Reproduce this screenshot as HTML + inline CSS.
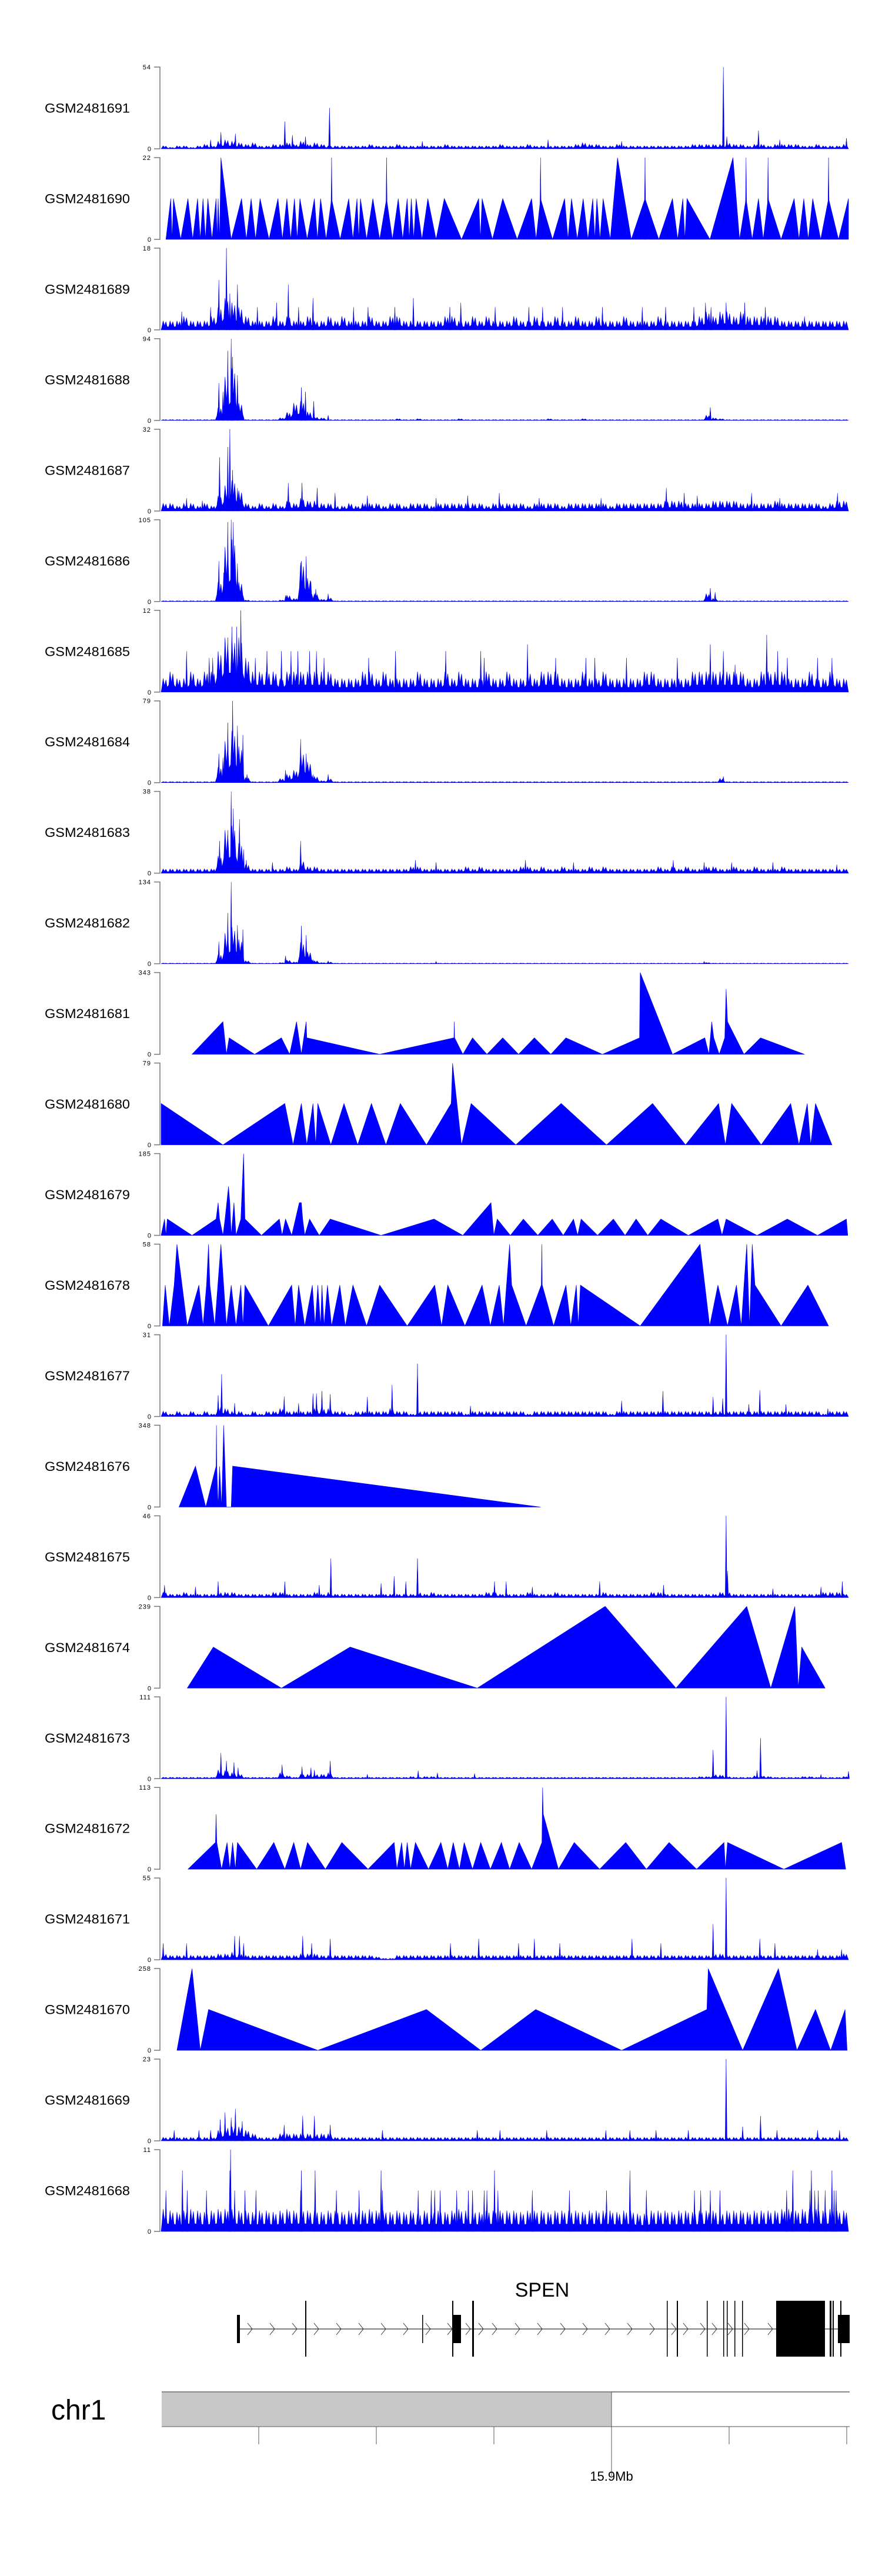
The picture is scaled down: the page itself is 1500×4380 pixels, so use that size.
<!DOCTYPE html>
<html><head><meta charset="utf-8"><style>
html,body{margin:0;padding:0;background:#fff;}
svg{display:block;font-family:"Liberation Sans",sans-serif;}
</style></head><body>
<svg id="chart" width="1500" height="4380" viewBox="0 0 1500 4380" xmlns="http://www.w3.org/2000/svg">
<g id="tracks"></g>
<g id="gene">
  <text x="922" y="3905" font-size="34" text-anchor="middle" fill="#000">SPEN</text>
</g>
<g id="ideo">
  <text x="87" y="4114" font-size="48" fill="#000">chr1</text>
  <rect x="275" y="4067" width="765" height="59" fill="#c8c8c8"/>
  <line x1="275" y1="4067" x2="1445" y2="4067" stroke="#888" stroke-width="2"/>
  <line x1="275" y1="4126" x2="1445" y2="4126" stroke="#888" stroke-width="1.5"/>
  <line x1="1040" y1="4067" x2="1040" y2="4210" stroke="#555" stroke-width="1"/>
  <text x="1040" y="4218" font-size="22" text-anchor="middle" fill="#000">15.9Mb</text>
</g>
</svg>
<script>
const NS="http://www.w3.org/2000/svg";
const trackNames=["GSM2481691","GSM2481690","GSM2481689","GSM2481688","GSM2481687","GSM2481686","GSM2481685","GSM2481684","GSM2481683","GSM2481682","GSM2481681","GSM2481680","GSM2481679","GSM2481678","GSM2481677","GSM2481676","GSM2481675","GSM2481674","GSM2481673","GSM2481672","GSM2481671","GSM2481670","GSM2481669","GSM2481668"];
const trackMax=[54,22,18,94,32,105,12,79,38,134,343,79,185,58,31,348,46,239,111,113,55,258,23,11];

const t01Bins=[2,1,2,2,1,2,3,2,5,6,5,4,3,4,2,2,3,3,4,3,5,3,4,3,2,2,2,2,2,2,3,2,2,2,3,2,2,2,2,2,2,3,2,2,2,2,2,2,2,3,2,2,2,3,2,2,2,2,2,2,3,4,3,3,2,2,3,2,2,2,2,2,2,2,2,2,2,3,3,3,3,3,4,3,3,2,3,3,2,3,3,3,3,2,2,3,2,2,2,3];
const t01Spikes=[[87,11],[72,6],[108,10],[180,18],[191,9],[210,8],[245,27],[380,5],[563,6],[670,5],[818,54],[823,8],[869,12],[900,6],[997,7]];
const t02PeakPos=[14,18,39,53,61,68,80,83,87,117,131,144,170,183,194,202,223,232,248,273,285,290,308,328,345,358,364,371,388,412,462,467,497,539,552,587,597,614,628,634,643,664,704,744,759,765,832,851,869,883,921,935,948,971,1000];
const t02PeakVal=[11,11,11,11,11,11,11,11,22,11,11,11,11,11,11,11,11,11,11,11,11,11,11,11,11,11,11,11,11,11,11,11,11,11,11,11,11,11,11,11,11,22,11,11,11,11,22,11,11,11,11,11,11,11,11];
const t02Spikes=[[248,22],[328,22],[552,22],[704,22],[851,22],[883,22],[971,22]];
const t03Bins=[2,2,2,3,2,2,2,3,5,7,6,5,3,2,2,2,3,2,3,2,2,3,2,2,3,2,3,2,2,2,3,2,2,3,3,2,2,2,2,2,2,3,3,2,2,3,2,3,2,2,2,3,2,2,3,2,2,3,2,2,3,2,2,3,2,2,2,3,2,2,2,2,3,2,2,2,2,2,3,4,3,4,4,3,4,3,3,3,3,3,2,2,2,2,2,2,2,2,2,2];
const t03Spikes=[[30,4],[72,5],[84,11],[95,18],[100,8],[111,10],[140,5],[168,6],[185,10],[200,5],[221,7],[280,5],[301,5],[340,5],[367,7],[420,5],[436,6],[486,5],[535,5],[555,5],[584,5],[642,5],[700,5],[734,5],[775,5],[792,6],[800,5],[822,6],[849,6],[879,5],[936,3]];
const t04Bins=[1,1,1,1,1,1,1,1,15,50,60,20,1,1,1,1,1,3,9,20,22,10,4,3,1,1,1,1,1,1,1,1,1,1,2,1,1,2,1,1,1,1,1,2,1,1,1,1,1,1,1,1,1,1,1,1,2,1,1,1,1,2,1,1,1,1,1,1,1,1,1,1,1,1,1,1,1,1,1,6,3,2,1,1,1,1,1,1,1,1,1,1,1,1,1,1,1,1,1,1];
const t04Spikes=[[84,43],[90,33],[97,80],[102,94],[104,73],[111,52],[184,9],[204,38],[210,33],[222,22],[243,6],[799,15]];
const t05Bins=[3,3,2,3,3,2,3,2,6,10,12,8,3,2,3,2,3,2,4,3,5,4,4,3,3,2,2,3,2,3,3,3,2,3,3,2,3,3,3,2,3,3,3,3,3,3,3,2,3,3,3,3,3,2,3,3,3,3,2,3,3,3,3,3,3,2,3,3,3,3,3,3,3,4,4,4,3,3,3,3,4,4,4,4,3,3,3,3,3,4,3,3,3,3,3,3,2,3,4,4];
const t05Spikes=[[85,21],[97,25],[100,32],[104,16],[111,9],[185,11],[205,11],[227,9],[253,7],[37,5],[60,4],[446,6],[492,7],[735,9],[761,7],[780,6],[859,7],[984,7],[300,6],[400,5],[550,5],[640,5],[900,5]];
const t06Bins=[1,1,1,1,1,1,1,1,25,70,80,25,2,1,1,1,1,2,8,4,50,30,10,3,5,1,1,1,1,1,1,1,1,1,1,1,1,1,1,1,1,1,1,1,1,1,1,1,1,1,1,1,1,1,1,1,1,1,1,1,1,1,1,1,1,1,1,1,1,1,1,1,1,1,1,1,1,1,1,10,4,1,1,1,1,1,1,1,1,1,1,1,1,1,1,1,1,1,1,1];
const t06Spikes=[[84,52],[91,37],[97,102],[102,105],[105,102],[111,49],[181,8],[204,52],[211,58],[218,26],[225,16],[243,10],[799,17],[806,12]];
const t07Bins=[2,3,2,2,3,2,3,3,6,8,8,8,5,3,3,3,3,2,3,3,3,3,3,3,3,2,2,2,2,3,3,2,3,2,2,2,2,3,2,2,2,3,2,3,2,2,2,3,2,2,3,2,2,3,2,3,3,3,2,2,2,3,2,2,3,2,2,2,2,2,3,3,2,2,2,2,2,3,3,3,3,3,3,3,3,2,2,3,3,3,3,2,2,2,3,2,2,3,2,2];
const t07Spikes=[[37,6],[70,5],[75,5],[116,12],[103,9.6],[110,9.6],[97,8],[137,5],[154,6],[175,6],[189,6],[199,6],[216,6],[226,6],[237,5],[302,5],[341,6],[414,6],[465,6],[470,5],[533,7],[574,5],[618,5],[631,5],[677,5],[751,5],[799,7],[818,6],[835,4],[881,8.4],[897,6],[911,5],[955,5],[976,5]];
const t08Bins=[1,1,1,1,1,1,1,1,15,40,50,35,5,1,1,1,1,4,8,12,30,20,6,2,4,1,1,1,1,1,1,1,1,1,1,1,1,1,1,1,1,1,1,1,1,1,1,1,1,1,1,1,1,1,1,1,1,1,1,1,1,1,1,1,1,1,1,1,1,1,1,1,1,1,1,1,1,1,1,1,1,4,1,1,1,1,1,1,1,1,1,1,1,1,1,1,1,1,1,1];
const t08Spikes=[[84,28],[90,24],[97,58],[104,79],[111,55],[119,46],[125,8],[181,12],[203,42],[211,28],[221,8],[243,8],[818,6]];
const t09Bins=[2,2,2,2,2,2,2,2,8,20,22,14,4,2,2,2,2,2,3,2,6,3,3,2,2,2,2,2,2,2,2,2,2,2,2,2,3,3,2,2,2,2,2,2,3,2,3,2,2,2,2,2,3,3,2,3,2,2,3,2,2,2,3,2,3,2,2,2,2,2,2,2,3,2,3,2,3,2,2,3,3,2,2,3,2,2,3,2,2,2,3,2,2,2,2,2,2,2,2,2];
const t09Spikes=[[85,15],[97,20],[102,38],[105,30],[114,25],[120,11],[124,6],[203,15],[162,5],[370,6],[400,5],[530,6],[600,5],[745,6],[790,5],[830,5],[890,5],[983,4]];
const t10Bins=[1,1,1,1,1,1,1,1,15,50,60,40,5,1,1,1,1,2,6,3,35,20,5,2,3,1,1,1,1,1,1,1,1,1,1,1,1,1,1,1,1,1,1,1,1,1,1,1,1,1,1,1,1,1,1,1,1,1,1,1,1,1,1,1,1,1,1,1,1,1,1,1,1,1,1,1,1,1,1,2,1,1,1,1,1,1,1,1,1,1,1,1,1,1,1,1,1,1,1,1];
const t10Spikes=[[84,36],[97,83],[102,134],[111,63],[119,56],[181,13],[204,62],[211,47],[221,7],[243,5],[400,4],[790,4]];
const t11Verts=[[45,0],[90,137],[95,0],[99,69],[136,0],[175,69],[187,0],[197,137],[204,0],[211,137],[212,69],[318,0],[426,69],[426.5,137],[427,69],[439,0],[453,69],[474,0],[497,69],[520,0],[543,69],[567,0],[589,69],[642,0],[696,69],[697,343],[744,0],[791,69],[797,0],[801,137],[804,69],[812,0],[820,69],[822,274],[824,137],[848,0],[872,69],[936,0]];
const t12Verts=[[0,40],[90,0],[180,40],[192,0],[204,40],[212,0],[221,40],[225,0],[228,40],[247,0],[266,40],[286,0],[306,40],[327,0],[348,40],[386,0],[422,40],[424,79],[437,0],[451,40],[516,0],[582,40],[648,0],[715,40],[763,0],[811,40],[821,0],[830,40],[873,0],[916,40],[928,0],[940,40],[945,0],[952,40],[976,0]];
const t13Verts=[[0,0],[5,37],[7,0],[9,37],[45,0],[80,37],[83,74],[85,37],[90,0],[93,37],[98,111],[100,74],[102,0],[106,74],[109,0],[116,37],[120,185],[122,37],[146,0],[172,37],[176,0],[181,37],[190,0],[201,74],[204,74],[206,37],[209,0],[216,37],[230,0],[246,37],[320,0],[397,37],[439,0],[480,74],[484,0],[489,37],[508,0],[527,37],[548,0],[569,37],[585,0],[600,37],[606,0],[611,37],[635,0],[658,37],[675,0],[691,37],[708,0],[727,37],[767,0],[810,37],[816,0],[822,37],[867,0],[911,37],[955,0],[997,37],[999,0]];
const t14Verts=[[2,0],[6,29],[12,0],[19,29],[23,58],[38,0],[55,29],[61,0],[66,29],[69,58],[71,29],[78,0],[87,58],[95,0],[102,29],[109,0],[116,29],[119,0],[122,29],[156,0],[190,29],[195,0],[200,29],[209,0],[220,29],[224,0],[228,29],[232,0],[234,29],[237,0],[242,29],[248,0],[260,29],[268,0],[279,29],[299,0],[318,29],[358,0],[398,29],[408,0],[417,29],[442,0],[467,29],[479,0],[492,29],[498,0],[507,58],[510,29],[531,0],[553,29],[554,58],[554.5,29],[571,0],[589,29],[596,0],[604,29],[607,0],[610,29],[697,0],[784,58],[798,0],[810,29],[824,0],[837,29],[844,0],[852,58],[856,0],[860,58],[864,29],[902,0],[941,29],[971,0]];
const t15Bins=[2,1,2,1,2,1,2,1,4,3,2,2,1,2,1,2,2,3,2,2,2,2,3,3,3,2,2,1,2,2,2,2,2,3,2,2,1,2,2,2,2,2,2,2,1,2,2,2,2,2,2,2,2,1,2,2,2,2,2,2,2,2,2,2,2,1,2,2,2,2,2,2,2,2,2,2,2,2,2,2,2,2,2,2,2,2,2,2,2,2,2,2,2,2,2,2,1,2,2,2];
const t15Spikes=[[83,8],[88,16],[107,5],[179,7.5],[200,5],[221,8.7],[226,8.7],[234,9.6],[246,8.4],[300,7.4],[336,12],[373,20],[450,4],[670,6],[730,9.6],[803,7.4],[817,6.8],[822,31],[855,4.6],[871,10],[909,4.6],[970,3]];
const t16Verts=[[26,0],[50,174],[65,0],[80,174],[80.5,348],[81,174],[83,0],[85,174],[88,0],[91,348],[95,0],[102,0],[104,174],[552,0]];
const t17Bins=[3,2,2,3,2,2,2,2,3,3,3,2,2,2,2,2,3,3,2,2,2,2,3,2,3,2,2,2,2,2,2,2,2,2,2,2,2,3,2,3,2,2,2,2,2,2,2,3,3,2,2,2,2,3,2,2,2,3,2,2,2,2,2,2,3,2,2,2,2,2,2,3,3,2,2,2,2,2,2,2,2,3,3,2,2,2,2,2,2,2,2,2,2,2,2,2,3,3,3,2];
const t17Spikes=[[5,7],[83,9],[180,9],[247,22],[339,12],[356,9],[373,22],[485,9],[502,9],[638,9],[731,7],[822,46],[824,15],[991,9],[50,6],[230,7],[320,8],[540,6],[890,5],[960,6]];
const t18Verts=[[38,0],[76,120],[175,0],[275,120],[460,0],[646,239],[749,0],[852,239],[887,0],[922,239],[927,0],[932,120],[966,0]];
const t19Bins=[2,2,2,2,2,2,2,2,12,11,8,6,2,2,2,2,2,8,4,2,6,6,6,6,8,2,2,2,2,2,2,2,2,2,2,2,3,2,3,3,2,2,2,2,2,2,2,2,2,2,2,2,2,2,2,2,2,2,2,2,2,2,2,2,2,2,2,2,2,2,2,2,2,2,2,2,2,2,3,3,6,5,3,2,2,2,4,4,3,2,2,2,2,3,3,2,2,2,2,3];
const t19Spikes=[[87,35],[95,24],[106,22],[112,15],[176,19],[205,16],[218,15],[223,12],[246,24],[300,6],[374,11],[402,8],[456,7],[803,39],[822,111],[867,11],[872,55],[960,6],[1000,10]];
const t20Verts=[[39,0],[79,37],[80,76],[81,37],[88,0],[96,37],[100,0],[104,37],[108,0],[111,37],[139,0],[164,37],[180,0],[193,37],[203,0],[213,37],[239,0],[263,37],[301,0],[339,37],[343,0],[350,37],[354,0],[358,37],[363,0],[370,37],[389,0],[407,37],[417,0],[425,37],[434,0],[441,37],[453,0],[465,37],[479,0],[495,37],[507,0],[521,37],[539,0],[554,37],[555,113],[556,76],[578,0],[601,37],[638,0],[676,37],[706,0],[739,37],[779,0],[819,37],[821,0],[824,37],[906,0],[990,37],[996,0]];
const t21Bins=[4,3,3,3,3,3,3,3,4,4,5,4,3,3,3,3,3,3,3,3,4,4,4,3,3,3,3,3,3,3,3,2,1,1,3,3,3,3,3,3,3,3,3,3,3,3,3,3,3,3,3,3,3,3,3,3,3,3,3,3,3,3,3,3,3,3,3,3,3,3,3,3,3,3,3,3,3,3,3,3,4,4,3,3,3,3,3,3,3,3,3,3,3,3,3,3,3,3,3,4];
const t21Spikes=[[3,11],[37,11],[107,16],[114,16],[120,11],[206,16],[219,11],[246,14],[421,11],[462,14],[520,11],[543,14],[580,11],[685,14],[727,11],[803,24],[822,55],[871,14],[893,11],[955,7],[990,7]];
const t22Verts=[[23,0],[45,258],[57,0],[69,129],[228,0],[386,129],[465,0],[545,129],[670,0],[794,129],[796,258],[846,0],[898,258],[925,0],[952,129],[974,0],[995,129],[998,0]];
const t23Bins=[1,1,1,1,1,1,1,1,3,4,4,4,3,2,1,1,1,2,2,2,2,2,2,2,2,1,1,1,1,1,1,1,1,1,1,1,1,1,1,1,1,1,1,1,1,1,1,1,1,1,1,1,1,1,1,1,1,1,1,1,1,1,1,1,1,1,1,1,1,1,1,1,1,1,1,1,1,1,1,1,1,1,1,1,1,1,1,1,1,1,1,1,1,1,1,1,1,1,1,1];
const t23Spikes=[[19,3],[55,3],[72,3],[86,6],[93,8],[102,6.5],[108,9],[118,5.5],[179,4.5],[206,7],[223,7],[246,4.5],[322,3],[460,3],[493,3],[561,3],[647,3],[682,3],[720,3],[767,3],[822,23],[846,4],[872,7],[896,3],[955,3],[987,3]];
const t24Bins=[3,2.8,2.6,2.8,3,2.8,2.6,2.8,3,3,3,2.8,2.8,2.6,2.8,2.8,2.6,2.8,3,2.8,3,2.8,2.8,2.6,2.8,2.8,2.6,2.8,2.6,2.8,3,2.8,2.8,2.6,2.8,2.6,2.8,2.4,2.8,2.8,2.8,2.6,2.8,3,2.8,2.8,2.6,2.8,2.8,2.8,2.8,2.8,2.6,2.8,2.8,2.8,2.6,2.8,2.8,2.8,2.8,2.6,2.8,2.8,2.8,2.8,2.6,2.8,2.8,2.4,2.4,2.8,2.8,2.8,2.6,2.8,2.8,2.6,2.8,2.8,2.8,2.6,2.8,2.8,2.8,2.6,2.8,2.8,2.8,2.8,3,3,2.8,3,3,3,2.8,3,2.8,2.8];
const t24Spikes=[[31,8.2],[100,8.2],[101,11],[204,8.2],[224,8.2],[320,8.2],[485,8.2],[682,8.2],[919,8.2],[946,8.2],[976,8.2],[7,5.5],[38,5.5],[66,5.5],[107,5.5],[122,5.5],[138,5.5],[203,5.5],[255,5.5],[288,5.5],[322,5.5],[374,5.5],[393,5.5],[398,5.5],[406,5.5],[430,5.5],[447,5.5],[453,5.5],[470,5.5],[474,5.5],[490,5.5],[540,5.5],[594,5.5],[648,5.5],[706,5.5],[776,5.5],[785,5.5],[799,5.5],[813,5.5],[910,5.5],[944,5.5],[951,5.5],[956,5.5],[966,5.5],[979,5.5],[982,5.5]];

const trackBins=[t01Bins,null,t03Bins,t04Bins,t05Bins,t06Bins,t07Bins,t08Bins,t09Bins,t10Bins,null,null,null,null,t15Bins,null,t17Bins,null,t19Bins,null,t21Bins,null,t23Bins,t24Bins];
const trackVerts=[null,null,null,null,null,null,null,null,null,null,t11Verts,t12Verts,t13Verts,t14Verts,null,t16Verts,null,t18Verts,null,t20Verts,null,t22Verts,null,null];
const trackSpikes=[t01Spikes,t02Spikes,t03Spikes,t04Spikes,t05Spikes,t06Spikes,t07Spikes,t08Spikes,t09Spikes,t10Spikes,[],[],[],[],t15Spikes,[],t17Spikes,[],t19Spikes,[],t21Spikes,[],t23Spikes,t24Spikes];

const PX0=274,PX1=1443,AXX=272,TOP0=114,PITCH=153.96,H=139;
function xs(p){return PX0+p/1000*(PX1-PX0);}
function mk(tag,attrs,parent){const e=document.createElementNS(NS,tag);for(const k in attrs)e.setAttribute(k,attrs[k]);parent.appendChild(e);return e;}

const tracksG=document.getElementById('tracks');
trackNames.forEach((name,i)=>{
  const top=TOP0+i*PITCH, base=top+H, max=trackMax[i];
  const ys=v=>base-Math.min(v,max)/max*H;
  const g=mk('g',{},tracksG);
  
  
  const lab=mk('text',{x:76,y:(top+H/2+8).toFixed(1),'font-size':22,fill:'#000',textLength:145,lengthAdjust:'spacingAndGlyphs'},g);
  lab.textContent=name;
  
  
  const ax=mk('path',{d:`M${AXX-10},${top}H${AXX}V${base}H${AXX-10}`,fill:'none',stroke:'#777','stroke-width':1.5},g);
  
  
  const tmax=mk('text',{x:AXX-15,y:(top+4).toFixed(1),'font-size':11,'text-anchor':'end',fill:'#000','letter-spacing':'1'},g);
  tmax.textContent=String(max);
  
  
  const tz=mk('text',{x:AXX-15,y:(base+4).toFixed(1),'font-size':11,'text-anchor':'end',fill:'#000'},g);
  tz.textContent='0';
  
  
  let d='';
  if(trackBins[i]){
    const b=trackBins[i], w=(PX1-PX0)/b.length;
    d=`M${PX0},${base}`;
    b.forEach((v,k)=>{const x0=PX0+k*w;
      d+=`L${(x0+0.12*w).toFixed(1)},${ys(v*0.35).toFixed(1)}L${(x0+0.3*w).toFixed(1)},${ys(v).toFixed(1)}L${(x0+0.5*w).toFixed(1)},${ys(v*0.45).toFixed(1)}L${(x0+0.7*w).toFixed(1)},${ys(v*0.9).toFixed(1)}L${(x0+0.88*w).toFixed(1)},${ys(v*0.35).toFixed(1)}`;});
    d+=`L${PX1},${base}Z`;
  } else if(trackVerts[i]){
    const vs=trackVerts[i];
    d=`M${xs(vs[0][0]).toFixed(1)},${base}`;
    vs.forEach(p=>{d+=`L${xs(p[0]).toFixed(1)},${ys(p[1]).toFixed(1)}`;});
    d+=`L${xs(vs[vs.length-1][0]).toFixed(1)},${base}Z`;
  } else {
    d=`M${xs(7).toFixed(1)},${base}`;
    t02PeakPos.forEach((p,k)=>{
      if(k>0){d+=`L${xs((t02PeakPos[k-1]+p)/2).toFixed(1)},${base}`;}
      d+=`L${xs(p).toFixed(1)},${ys(t02PeakVal[k]).toFixed(1)}`;
    });
    d+=`L${xs(1000).toFixed(1)},${base}Z`;
  }
  const area=mk('path',{d:d,fill:'#0000ff',stroke:'#0000ee','stroke-width':0.6},g);
  
  
  trackSpikes[i].forEach(s=>{
    const x=xs(s[0]);
    const sp=mk('path',{d:`M${(x-1.6).toFixed(1)},${base}L${x.toFixed(1)},${ys(s[1]).toFixed(1)}L${(x+1.6).toFixed(1)},${base}Z`,fill:'#0000ff',stroke:'#0000dd','stroke-width':0.5},g);
    
    
  });
});

// gene model
const geneG=document.getElementById('gene');
const GY=3960;
const intron=mk('line',{x1:403,y1:GY,x2:1445,y2:GY,stroke:'#000','stroke-width':1},geneG);


const chevX=[425,463,501,538,576,614,652,690,728,765,796,818,841,880,918,957,995,1033,1071,1109,1146,1166,1195,1215,1242,1270,1310];
chevX.forEach(x=>{
  const c=mk('path',{d:`M${x-4},${GY-10}L${x+4},${GY}L${x-4},${GY+10}`,fill:'none',stroke:'#333','stroke-width':1},geneG);
  
  
});
const exonX=[403,519,718,769,769,803,1134,1151,1202,1230,1236,1249,1262,1320,1411,1416,1425,1429];
const exonW=[5,2,1.5,2,15,3,1.5,2,1.5,1.5,1.5,1.5,1.5,83,3,2,20,2];
const exonTall=[0,1,0,1,0,1,1,1,1,1,1,1,1,1,1,1,0,1];
exonX.forEach((x,k)=>{
  const tall=exonTall[k];
  const r=mk('rect',{x:x,y:tall?3912:3936,width:exonW[k],height:tall?95:48,fill:'#000'},geneG);
  
  
});

// ideogram ticks
const ideoG=document.getElementById('ideo');
const tickX=[440,640,840,1040,1240,1440];
tickX.forEach(x=>{
  const t=mk('line',{x1:x,y1:4126,x2:x,y2:4156,stroke:'#555','stroke-width':1},ideoG);
  
  
});
</script>
</body></html>
